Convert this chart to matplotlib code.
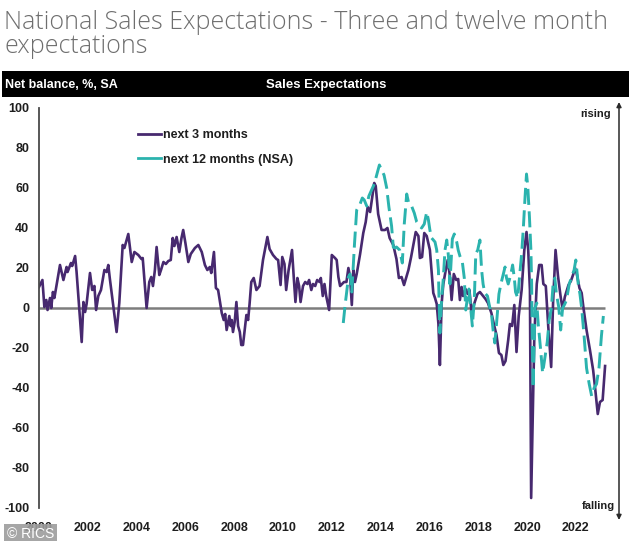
import matplotlib
matplotlib.use("Agg")
import matplotlib.pyplot as plt
from matplotlib.lines import Line2D
from matplotlib.patches import Rectangle

# ---------------- data ----------------
three_month_t = [
    2000.0, 2000.14, 2000.22, 2000.3, 2000.35, 2000.45, 2000.5, 2000.57, 2000.63, 2000.86,
    2001.0, 2001.13, 2001.17, 2001.31, 2001.36, 2001.48, 2001.54, 2001.75, 2001.82, 2001.89,
    2001.95, 2002.09, 2002.18, 2002.27, 2002.34, 2002.43, 2002.54, 2002.68, 2002.77, 2002.84,
    2002.9, 2003.18, 2003.29, 2003.43, 2003.5, 2003.66, 2003.8, 2003.91,
    2004.07, 2004.2, 2004.25, 2004.27, 2004.41, 2004.52, 2004.6, 2004.67, 2004.75, 2004.82,
    2004.93, 2005.0, 2005.1, 2005.2, 2005.3, 2005.4, 2005.48, 2005.55, 2005.64, 2005.75,
    2005.84, 2005.91, 2006.0, 2006.12, 2006.22, 2006.39, 2006.53, 2006.67, 2006.8, 2006.9,
    2007.0, 2007.06, 2007.17, 2007.25, 2007.34, 2007.49, 2007.57, 2007.63, 2007.69, 2007.8,
    2007.86, 2007.9, 2007.95, 2008.02, 2008.09, 2008.16, 2008.23, 2008.29, 2008.36, 2008.5,
    2008.57, 2008.63, 2008.7, 2008.8, 2008.91, 2009.04, 2009.18, 2009.36, 2009.45, 2009.59,
    2009.73, 2009.8, 2009.9, 2009.97, 2010.06, 2010.13, 2010.23, 2010.37, 2010.44, 2010.51,
    2010.59, 2010.66, 2010.72, 2010.82, 2010.91, 2011.0, 2011.07, 2011.16, 2011.23, 2011.32,
    2011.4, 2011.5, 2011.55, 2011.63, 2011.7, 2011.77, 2011.89,
    2012.0, 2012.13, 2012.2, 2012.27, 2012.34, 2012.42, 2012.5, 2012.6, 2012.68, 2012.75,
    2012.82, 2012.88, 2012.95, 2013.02, 2013.16, 2013.29, 2013.39, 2013.47, 2013.57, 2013.63,
    2013.74, 2013.8, 2013.9, 2014.04, 2014.18, 2014.28, 2014.37, 2014.52, 2014.65, 2014.75,
    2014.86, 2014.96, 2015.07, 2015.14, 2015.25, 2015.34, 2015.44, 2015.55, 2015.61, 2015.7,
    2015.79, 2015.89, 2016.02, 2016.16, 2016.23, 2016.3, 2016.37, 2016.43, 2016.5, 2016.57,
    2016.67, 2016.75, 2016.84, 2016.91, 2017.0, 2017.1, 2017.18, 2017.25, 2017.32, 2017.38,
    2017.48, 2017.57, 2017.64, 2017.73, 2017.8, 2017.86, 2017.97, 2018.07, 2018.2, 2018.3,
    2018.4, 2018.54, 2018.66, 2018.75, 2018.85, 2018.95, 2019.03, 2019.12, 2019.23, 2019.3,
    2019.39, 2019.48, 2019.57, 2019.66, 2019.78, 2019.89, 2019.98, 2020.05, 2020.12, 2020.17,
    2020.3, 2020.4, 2020.5, 2020.6, 2020.67, 2020.77, 2020.87, 2020.99, 2021.07, 2021.17,
    2021.27, 2021.38, 2021.46, 2021.55, 2021.7, 2021.8, 2021.9, 2021.97, 2022.04, 2022.15,
    2022.24, 2022.31, 2022.44, 2022.58, 2022.71, 2022.8, 2022.9, 2022.99, 2023.1, 2023.2,
]
three_month_v = [
    10.5, 14, 0.5, 4, -1, 5, 0, 8, 5, 21.5,
    14, 20.5, 18, 22.5, 21, 26, 18, -17, 3, -2,
    2, 17.5, 9, 11, -1, 6, 9, 19, 18, 21.5,
    15, -12, 2.5, 31.5, 30, 37, 23, 28,
    26.5, 24.5, 25, 22, 0, 13, 15.5, 11, 19, 30.5,
    16.5, 19, 23, 22, 23.5, 24, 35, 31, 35.5, 28,
    35, 39, 32.5, 23, 27, 30, 31.5, 28, 21.5, 19,
    20.5, 17.5, 28, 10, 9, -2.5, -6, -3, -11, -4,
    -9, -6, -12, -7, 3, -9, -12, -18.5, -18.5, -3.5,
    -6, 2, 13, 15, 9, 11, 24, 35.5, 29.5, 26.5,
    24.5, 24, 11.5, 25.5, 22, 9, 19, 29, 15.5, 3,
    15, 11, 3, 11, 13, 12, 14, 9, 12, 11,
    14, 13, 15, 6, 12, 6, -1,
    26.5, 25, 24, 15.5, 11, 12, 13, 13, 20, 15.5,
    1.5, 19, 13, 17, 27, 37.5, 43, 50.5, 48, 53,
    62.5, 61, 47, 39, 39, 40, 35, 31.5, 24.5, 15,
    15.5, 11.5, 16, 19, 25.5, 31.5, 38, 36, 25, 25.5,
    37.5, 36, 29, 7.5, 5, 2, -8, -28.5, 2, 12,
    19, 24, 16, 4, 17, 14, 14.5, 4, 10.5, 6,
    9.5, 7, 9, -2.5, 0.5, 3, 7, 8, 6, 4.5,
    2.5, -2.5, -9, -13.5, -22.5, -23.5, -28.5, -26.5, -16, -8,
    -9, 1.5, -22, -4, 9, 29, 38, 29, 9, -95,
    -14, 12, 21.5, 21.5, 12, 11, -9, -29.5, 3, 29,
    16, 5.5, -0.5, 5.5, 11.5, 13.5, 17, 20, 17, 10,
    7.5, 0.5, -11, -21, -31, -41, -53, -47, -46, -29,
]

twelve_month_t = [
    2012.47, 2012.55, 2012.61, 2012.68, 2012.75, 2012.82, 2012.93, 2013.02, 2013.16, 2013.25,
    2013.33, 2013.43, 2013.52, 2013.63, 2013.74, 2013.84, 2013.95, 2014.04, 2014.14, 2014.25,
    2014.34, 2014.45, 2014.52, 2014.58, 2014.65, 2014.78, 2014.89, 2014.97, 2015.07, 2015.16,
    2015.27, 2015.38, 2015.48, 2015.57, 2015.68, 2015.79, 2015.89, 2015.96, 2016.02, 2016.09,
    2016.23, 2016.3, 2016.37, 2016.39, 2016.43, 2016.5, 2016.57, 2016.64, 2016.71, 2016.78,
    2016.84, 2016.94, 2017.02, 2017.12, 2017.18, 2017.25, 2017.35, 2017.43, 2017.49, 2017.57,
    2017.62, 2017.71, 2017.76, 2017.84, 2017.9, 2017.98, 2018.07, 2018.14, 2018.2, 2018.27,
    2018.38, 2018.47, 2018.54, 2018.61, 2018.68, 2018.75, 2018.85, 2018.93, 2019.03, 2019.1,
    2019.16, 2019.23, 2019.34, 2019.41, 2019.48, 2019.53, 2019.62, 2019.69, 2019.78, 2019.85,
    2019.92, 2019.98, 2020.03, 2020.1, 2020.16, 2020.19, 2020.22, 2020.25, 2020.33, 2020.4,
    2020.46, 2020.56, 2020.64, 2020.74, 2020.83, 2020.91, 2021.0, 2021.07, 2021.14, 2021.2,
    2021.3, 2021.38, 2021.46, 2021.55, 2021.62, 2021.73, 2021.83, 2021.93, 2022.0, 2022.1,
    2022.17, 2022.24, 2022.34, 2022.44, 2022.55, 2022.65, 2022.75, 2022.85, 2022.95, 2023.05,
    2023.13,
]
twelve_month_v = [
    -7.5, 2, 8, 15.5, 17, 8, 32, 49, 52, 55,
    54, 51, 56, 59, 62, 66.5, 71.5, 69, 66.5, 60,
    50.5, 41, 30.5, 30, 30.5, 29, 22.5, 42, 57, 52,
    51, 47.5, 43, 41.5, 40, 42, 48, 44, 39, 35,
    33, 29, 19, 7, -12.5, 4, 15, 29, 34, 26,
    12, 34.5, 37, 33, 29, 26, 23, 15, -1, 6,
    9.5, -2.5, -9, 4, 27, 29, 34, 19, 12, 7.5,
    6, 0.5, -2.5, -11, -17.5, -8, 7, 12, 17, 20.5,
    15, 12, 17, 21.5, 15, 8, 5, 15, 27, 40,
    55.5, 67, 61, 45.5, 29, 12, -20, -40, 0, 2.5,
    -8, -21, -32.5, -24.5, -17, -6, 0, 12, 15, 7.5,
    0.5, -11, 0, 2, 4, 12, 15.5, 19, 24, 12,
    7, 0, -14, -30, -38, -44, -40, -38, -30, -14,
    -4,
]

series_labels = ["next 3 months", "next 12 months (NSA)"]
y_ticks = [100, 80, 60, 40, 20, 0, -20, -40, -60, -80, -100]
x_ticks = [2000, 2002, 2004, 2006, 2008, 2010, 2012, 2014, 2016, 2018, 2020, 2022]

# ---------------- styling ----------------
W, H = 634, 541
PURPLE = "#47296f"
TEAL = "#2bb3ae"
TXT = "#1e1e1e"
BOLD_FONT = ["Liberation Sans", "DejaVu Sans"]

fig = plt.figure(figsize=(W / 100, H / 100), dpi=100)
fig.patch.set_facecolor("white")


def fx(px):
    return px / W


def fy(py):
    return 1 - py / H


# title
fig.text(fx(4), fy(29), "National Sales Expectations - Three and twelve month",
         fontsize=18, family=["Open Sans", "DejaVu Sans"], weight="light",
         color="#6e6e6e", ha="left", va="baseline")
fig.text(fx(4), fy(53), "expectations",
         fontsize=18, family=["Open Sans", "DejaVu Sans"], weight="light",
         color="#6e6e6e", ha="left", va="baseline")

# black header bar
fig.patches.append(Rectangle((fx(2), fy(97)), fx(627), 26 / H, transform=fig.transFigure,
                             facecolor="black", edgecolor="none", zorder=1))
fig.text(fx(5), fy(85), "Net balance, %, SA", color="white", fontsize=9,
         family=BOLD_FONT, weight="bold", ha="left", va="center", zorder=2)
fig.text(fx(326), fy(85), "Sales Expectations", color="white", fontsize=9.5,
         family=BOLD_FONT, weight="bold", ha="center", va="center", zorder=2)

# axes
ax = fig.add_axes([fx(39), fy(508), fx(580), 400 / H])
ax.set_xlim(2000, 2000 + 580 / 24.4)
ax.set_ylim(-100, 100)
for s in ["top", "right", "bottom"]:
    ax.spines[s].set_visible(False)
ax.spines["left"].set_color("#4a4a4a")
ax.spines["left"].set_linewidth(1.3)
ax.set_facecolor("none")

ax.set_yticks(y_ticks)
ax.set_yticklabels([str(v) for v in y_ticks])
ax.set_xticks(x_ticks)
ax.set_xticklabels([str(v) for v in x_ticks])
ax.tick_params(axis="y", length=0, pad=7, labelsize=9, labelcolor=TXT)
ax.tick_params(axis="x", length=0, pad=10, labelsize=9, labelcolor=TXT)
for lab in ax.get_xticklabels() + ax.get_yticklabels():
    lab.set_family(BOLD_FONT)
    lab.set_fontweight("bold")

ax.hlines(0, 2000, 2023.2, color="#7d7d7d", lw=1.8, zorder=1)

ax.plot(three_month_t, three_month_v, color=PURPLE, lw=1.9, zorder=2,
        solid_joinstyle="round", label=series_labels[0])
ax.plot(twelve_month_t, twelve_month_v, color=TEAL, lw=2.1, zorder=3,
        dashes=(5.5, 2.2), label=series_labels[1])

handles = [Line2D([], [], color=PURPLE, lw=2.0), Line2D([], [], color=TEAL, lw=2.0)]
leg = ax.legend(handles, series_labels, loc="upper left", frameon=False,
                bbox_to_anchor=(fx(138), fy(129)), bbox_transform=fig.transFigure,
                borderaxespad=0, borderpad=0, handlelength=1.85, handletextpad=0.15,
                labelspacing=1.0, prop={"family": BOLD_FONT, "weight": "bold", "size": 9})
for t in leg.get_texts():
    t.set_color(TXT)

# right-hand rising/falling arrow
ax.annotate("", xy=(619, H - 102), xytext=(619, H - 520), xycoords="figure pixels",
            textcoords="figure pixels",
            arrowprops=dict(arrowstyle="<|-|>", color="#2a2a2a", lw=1.1,
                            mutation_scale=7, shrinkA=0, shrinkB=0))
fig.text(fx(611), fy(114), "rising", fontsize=8, family=BOLD_FONT, weight="bold",
         color=TXT, ha="right", va="center")
fig.text(fx(615), fy(506), "falling", fontsize=8, family=BOLD_FONT, weight="bold",
         color=TXT, ha="right", va="center")

# watermark (in the reference it covers the lower part of the "2000" label)
fig.text(fx(7), fy(534), "\u00a9 RICS", fontsize=10, family=BOLD_FONT,
         color="white", ha="left", va="center", zorder=10,
         bbox=dict(facecolor="#9c9c9c", edgecolor="none", alpha=0.9, pad=2.0))

fig.savefig("out.png", dpi=100)
